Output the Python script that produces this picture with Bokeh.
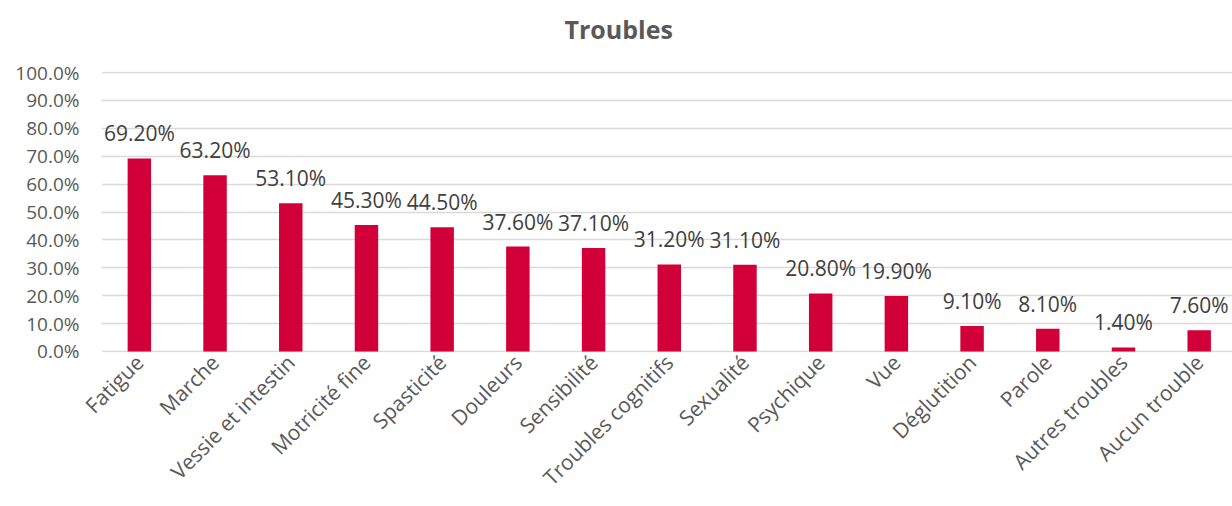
from bokeh.plotting import figure
from bokeh.models import (ColumnDataSource, Range1d, FixedTicker, LabelSet,
                          PrintfTickFormatter, Title)
from bokeh.core.properties import value
from bokeh.embed import file_html
from bokeh.resources import INLINE

# Share of respondents reporting each trouble (%)
categories = ["Fatigue", "Marche", "Vessie et intestin", "Motricité fine",
              "Spasticité", "Douleurs", "Sensibilité", "Troubles cognitifs",
              "Sexualité", "Psychique", "Vue", "Déglutition", "Parole",
              "Autres troubles", "Aucun trouble"]
values = [69.2, 63.2, 53.1, 45.3, 44.5, 37.6, 37.1, 31.2, 31.1,
          20.8, 19.9, 9.1, 8.1, 1.4, 7.6]
y_ticks = [0, 10, 20, 30, 40, 50, 60, 70, 80, 90, 100]
title = "Troubles"

FONT = "Open Sans"
BAR = "#D20038"
GREY = "#595959"

xs = [i + 0.5 for i in range(len(categories))]
src = ColumnDataSource(dict(
    x=xs, top=values, label=[f"{v:.2f}%" for v in values]))

p = figure(width=1232, height=506, output_backend="svg", toolbar_location=None,
           title=None,
           x_range=Range1d(0, 14.94), y_range=Range1d(-0.4, 100.4),
           min_border_left=101, min_border_right=0,
           min_border_top=71, min_border_bottom=154)

# blank strip between the title and the plot area, then the title itself
p.add_layout(Title(text=" ", text_font_size="8px", standoff=10), "above")
p.add_layout(Title(text=title, text_font=FONT, text_font_size="25px",
                   text_font_style="bold", text_color=GREY, align="left",
                   offset=463, standoff=10), "above")

p.vbar(x="x", top="top", width=0.31, bottom=0, source=src,
       fill_color=BAR, line_color=None)

# value labels above the bars
p.add_layout(LabelSet(x="x", y="top", text="label", source=src,
                      text_align="center", text_baseline="alphabetic",
                      y_offset=17, text_font=value(FONT),
                      text_font_size=value("21px"),
                      text_color=value("#404040")))

# y axis
p.yaxis.ticker = FixedTicker(ticks=y_ticks)
p.yaxis.formatter = PrintfTickFormatter(format="%.1f%%")
p.yaxis.axis_line_color = None
p.yaxis.major_tick_line_color = None
p.yaxis.minor_tick_line_color = None
p.yaxis.major_tick_out = 0
p.yaxis.major_tick_in = 0
p.yaxis.major_label_standoff = 22
p.yaxis.major_label_text_font = FONT
p.yaxis.major_label_text_font_size = "19px"
p.yaxis.major_label_text_color = GREY

# x axis: slanted category names at the bar centres
p.xaxis.ticker = FixedTicker(ticks=xs)
p.xaxis.major_label_overrides = {x: c for x, c in zip(xs, categories)}
p.xaxis.major_label_orientation = 0.7854
p.xaxis.axis_line_color = None
p.xaxis.major_tick_line_color = None
p.xaxis.minor_tick_line_color = None
p.xaxis.major_tick_out = 0
p.xaxis.major_tick_in = 0
p.xaxis.major_label_standoff = 6
p.xaxis.major_label_text_font = FONT
p.xaxis.major_label_text_font_size = "21px"
p.xaxis.major_label_text_color = GREY

p.xgrid.grid_line_color = None
p.ygrid.ticker = FixedTicker(ticks=y_ticks)
p.ygrid.grid_line_color = "#D9D9D9"
p.ygrid.grid_line_width = 1.5
p.outline_line_color = None

open("out.html", "w").write(file_html(p, INLINE))
